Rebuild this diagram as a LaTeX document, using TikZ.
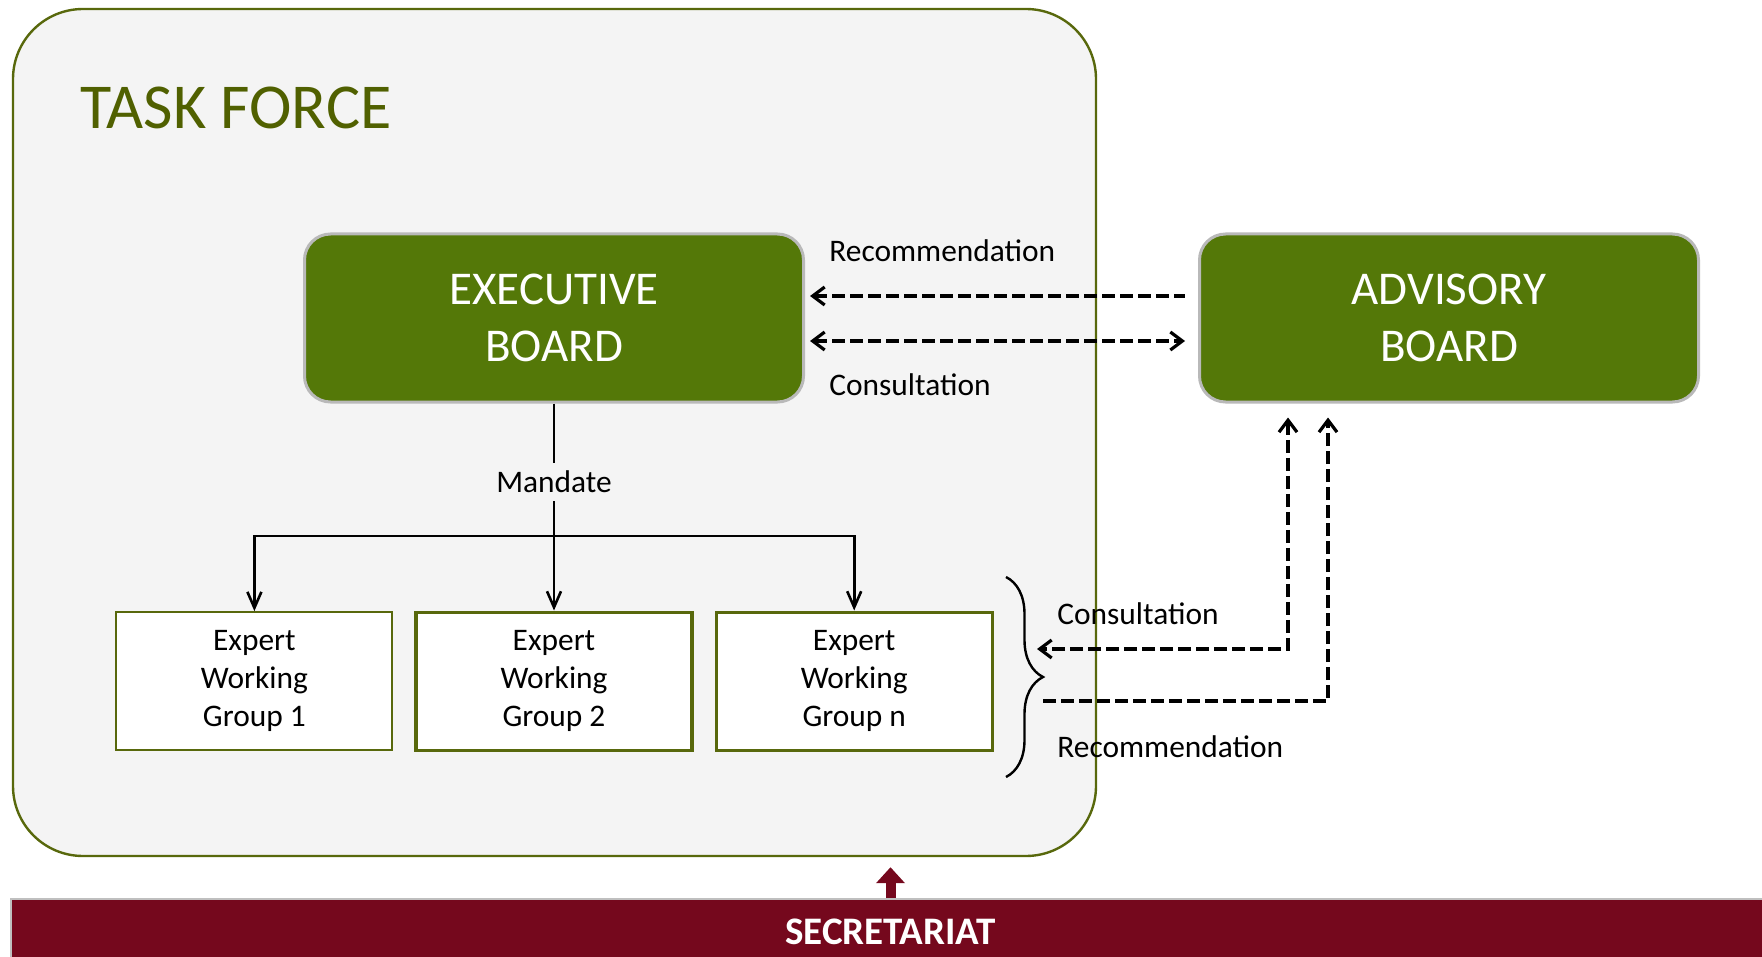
\documentclass[tikz,border=0pt]{standalone}
\usepackage{fontspec}
\setmainfont{Carlito}
\usetikzlibrary{positioning}
\usetikzlibrary{arrows.meta}
\usetikzlibrary{decorations.pathreplacing}
\definecolor{tfolive}{RGB}{88,104,12}
\definecolor{tftext}{RGB}{80,96,0}
\definecolor{boardgreen}{RGB}{84,120,8}
\definecolor{secred}{RGB}{117,8,29}
\definecolor{tfback}{RGB}{244,244,244}
\tikzstyle{board} = [rectangle, rounded corners=13pt, fill=boardgreen, draw=gray!55, line width=1.5pt, text=white, minimum width=249.5pt, minimum height=84pt, align=center, font=\fontsize{23.5}{28.5}\selectfont]
\tikzstyle{ewg} = [rectangle, fill=white, draw=tfolive, line width=1.6pt, minimum width=138pt, minimum height=69pt, align=center, font=\fontsize{15.7}{19}\selectfont]
\tikzstyle{lbl} = [inner sep=0pt, font=\fontsize{15.7}{19}\selectfont]
\tikzstyle{dasharrow} = [dash pattern=on 6.5pt off 2.5pt, line width=1.6pt, >={Straight Barb[length=6pt,width=9pt]}]
\tikzstyle{mandarrow} = [line width=1.3pt, >={Straight Barb[length=8pt,width=7pt]}]

\begin{document}
\begin{tikzpicture}[x=0.5pt, y=-0.5pt,
	tframe/.style={rectangle, rounded corners=35pt, fill=tfback, draw=tfolive, line width=1.2pt, minimum width=541.5pt, minimum height=423.5pt},
	secbar/.style={rectangle, fill=secred, draw=gray!50, line width=1pt, text=white, minimum width=879.5pt, minimum height=33pt, font=\fontsize{19.5}{23}\selectfont\bfseries}]
\useasboundingbox (0,0) rectangle (1762,957);

% Define nodes
\node[tframe]                                   (tf)    at (554.5,432.5) {};
\node[anchor=base west, inner sep=0pt, text=tftext, font=\fontsize{32}{38}\selectfont] (tftitle) at (80,129) {TASK FORCE};

\node[board]                                    (exec)  at (554,318) {EXECUTIVE\\BOARD};
\node[board, right = 196.5pt of exec]           (adv)   {ADVISORY\\BOARD};

\node[ewg, below = 103.5pt of exec]             (w2)    {Expert\\Working\\Group 2};
\node[ewg, left = 10.5pt of w2, line width=1pt] (w1)    {Expert\\Working\\Group 1};
\node[ewg, right = 10.5pt of w2]                (wn)    {Expert\\Working\\Group n};

\node[lbl, inner sep=4pt]                       (m)     at (554,482) {Mandate};
\node[lbl, anchor=west]                         (rtop)  at (829,251) {Recommendation};
\node[lbl, anchor=west]                         (ctop)  at (829,385) {Consultation};
\node[lbl, anchor=west]                         (cbot)  at (1057,614) {Consultation};
\node[lbl, anchor=west]                         (rbot)  at (1057,747) {Recommendation};

\node[secbar]                                   (secr)  at (890.5,932) {SECRETARIAT};

\coordinate (split) at (554,536);
\coordinate (brtop) at (1006,577);
\coordinate (brbot) at (1006,777);
\coordinate (cleft) at (1037,649);
\coordinate (rleft) at (1043,701);

% Edges
\draw[mandarrow]        (exec)  -- (m);
\draw[mandarrow]        (m)     -- (split);
\draw[mandarrow, ->]    (split) -| (w1);
\draw[mandarrow, ->]    (split) -- (w2);
\draw[mandarrow, ->]    (split) -| (wn);

\draw[dasharrow, <-, shorten <=2.5pt, shorten >=6.5pt]  ([yshift=11pt]exec.east)    -- ([yshift=11pt]adv.west);
\draw[dasharrow, <->, shorten <=2.5pt, shorten >=6.5pt] ([yshift=-11.5pt]exec.east) -- ([yshift=-11.5pt]adv.west);
\draw[dasharrow, <->, shorten <=7pt]    ([xshift=-80.5pt]adv.south) |- (cleft);
\draw[dasharrow, ->, shorten >=7pt]     (rleft) -| ([xshift=-60.5pt]adv.south);

\draw[decorate, decoration={brace, amplitude=18.5pt}, line width=1.2pt] (brtop) -- (brbot);

\draw[-{Triangle[length=8pt,width=14pt]}, line width=5pt, secred, shorten >=5pt] (secr.north) -- (secr.north |- tf.south);
\end{tikzpicture}
\end{document}
